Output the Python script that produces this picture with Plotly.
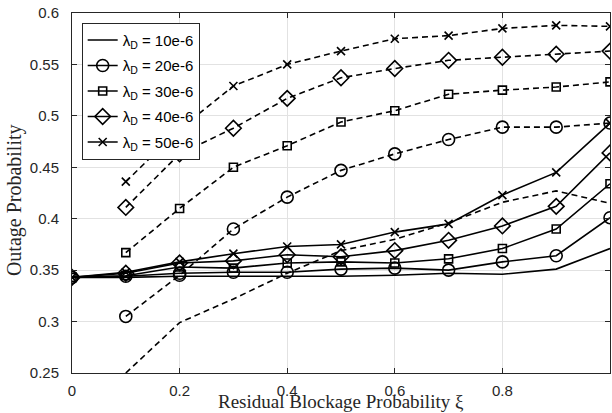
import plotly.graph_objects as go

# ---- data ----
x_solid = [0, 0.1, 0.2, 0.3, 0.4, 0.5, 0.6, 0.7, 0.8, 0.9, 1.0]
x_dash = [0.1, 0.2, 0.3, 0.4, 0.5, 0.6, 0.7, 0.8, 0.9, 1.0]

labels = ["10e-6", "20e-6", "30e-6", "40e-6", "50e-6"]

solid_10 = [0.343, 0.343, 0.344, 0.344, 0.344, 0.344, 0.345, 0.347, 0.346, 0.351, 0.371]
solid_20 = [0.343, 0.344, 0.347, 0.348, 0.348, 0.351, 0.352, 0.350, 0.358, 0.364, 0.401]
solid_30 = [0.343, 0.3445, 0.353, 0.352, 0.357, 0.358, 0.357, 0.361, 0.371, 0.390, 0.434]
solid_40 = [0.343, 0.347, 0.357, 0.359, 0.365, 0.363, 0.369, 0.379, 0.393, 0.412, 0.464]
solid_50 = [0.343, 0.348, 0.358, 0.366, 0.373, 0.375, 0.387, 0.395, 0.423, 0.445, 0.493]

dash_10 = [0.25, 0.299, 0.322, 0.347, 0.369, 0.380, 0.396, 0.416, 0.427, 0.415]
dash_20 = [0.305, 0.345, 0.390, 0.421, 0.447, 0.463, 0.477, 0.489, 0.489, 0.493]
dash_30 = [0.367, 0.410, 0.450, 0.471, 0.494, 0.505, 0.521, 0.525, 0.528, 0.533]
dash_40 = [0.411, 0.463, 0.488, 0.517, 0.537, 0.546, 0.554, 0.557, 0.560, 0.563]
dash_50 = [0.436, 0.487, 0.529, 0.550, 0.563, 0.575, 0.578, 0.585, 0.588, 0.587]

solids = [solid_10, solid_20, solid_30, solid_40, solid_50]
dashes = [dash_10, dash_20, dash_30, dash_40, dash_50]

x_ticks = [0, 0.2, 0.4, 0.6, 0.8, 1.0]
x_ticktext = ["0", "0.2", "0.4", "0.6", "0.8", "1"]
y_ticks = [0.25, 0.3, 0.35, 0.4, 0.45, 0.5, 0.55, 0.6]
y_ticktext = ["0.25", "0.3", "0.35", "0.4", "0.45", "0.5", "0.55", "0.6"]

# ---- styles ----
symbols = [None, "circle-open", "square-open", "diamond-open", "x-thin-open"]
sizes = [0, 12, 8, 12, 8]
INK = "#262626"

fig = go.Figure()

for i in range(5):
    mode = "lines" if symbols[i] is None else "lines+markers"
    marker = dict(symbol=symbols[i] or "circle", size=sizes[i], color="black",
                  line=dict(color="black", width=1.6))
    fig.add_trace(go.Scatter(
        x=x_dash, y=dashes[i], mode=mode, marker=marker,
        line=dict(color="black", width=1.6, dash="6px,4px"),
        showlegend=False, legendgroup=f"g{i}"))
    fig.add_trace(go.Scatter(
        x=x_solid, y=solids[i], mode=mode, marker=marker,
        line=dict(color="black", width=1.6),
        name=f"λ<sub>D</sub> = {labels[i]}", legendgroup=f"g{i}"))

axis_common = dict(
    showline=True, linecolor=INK, linewidth=1, mirror="ticks",
    ticks="inside", ticklen=5, tickcolor=INK,
    showgrid=True, gridcolor="#e2e2e2", gridwidth=1, zeroline=False,
    tickfont=dict(family="Liberation Sans", size=15, color=INK),
)

fig.update_xaxes(range=[0, 1], tickvals=x_ticks, ticktext=x_ticktext,
                 ticklabelstandoff=4, **axis_common)
fig.update_yaxes(range=[0.25, 0.6], tickvals=y_ticks, ticktext=y_ticktext,
                 ticklabelstandoff=9, **axis_common)

fig.update_layout(
    width=612, height=413,
    margin=dict(l=72, r=2, t=13, b=40),
    plot_bgcolor="white", paper_bgcolor="white",
    legend=dict(x=0.018, y=0.973, xanchor="left", yanchor="top",
                bgcolor="white", bordercolor=INK, borderwidth=1,
                font=dict(family="Liberation Sans", size=15, color="black"),
                tracegroupgap=3, itemwidth=30),
    annotations=[
        dict(text="Residual Blockage Probability ξ", xref="paper", yref="paper",
             x=0.5, y=-0.078, xanchor="center", yanchor="middle", showarrow=False,
             font=dict(family="Liberation Serif", size=19, color=INK)),
        dict(text="Outage Probability", xref="paper", yref="paper",
             x=-0.108, y=0.48, xanchor="center", yanchor="middle", showarrow=False,
             textangle=-90,
             font=dict(family="Liberation Serif", size=20, color=INK)),
    ],
)

fig.write_html("out.html")
